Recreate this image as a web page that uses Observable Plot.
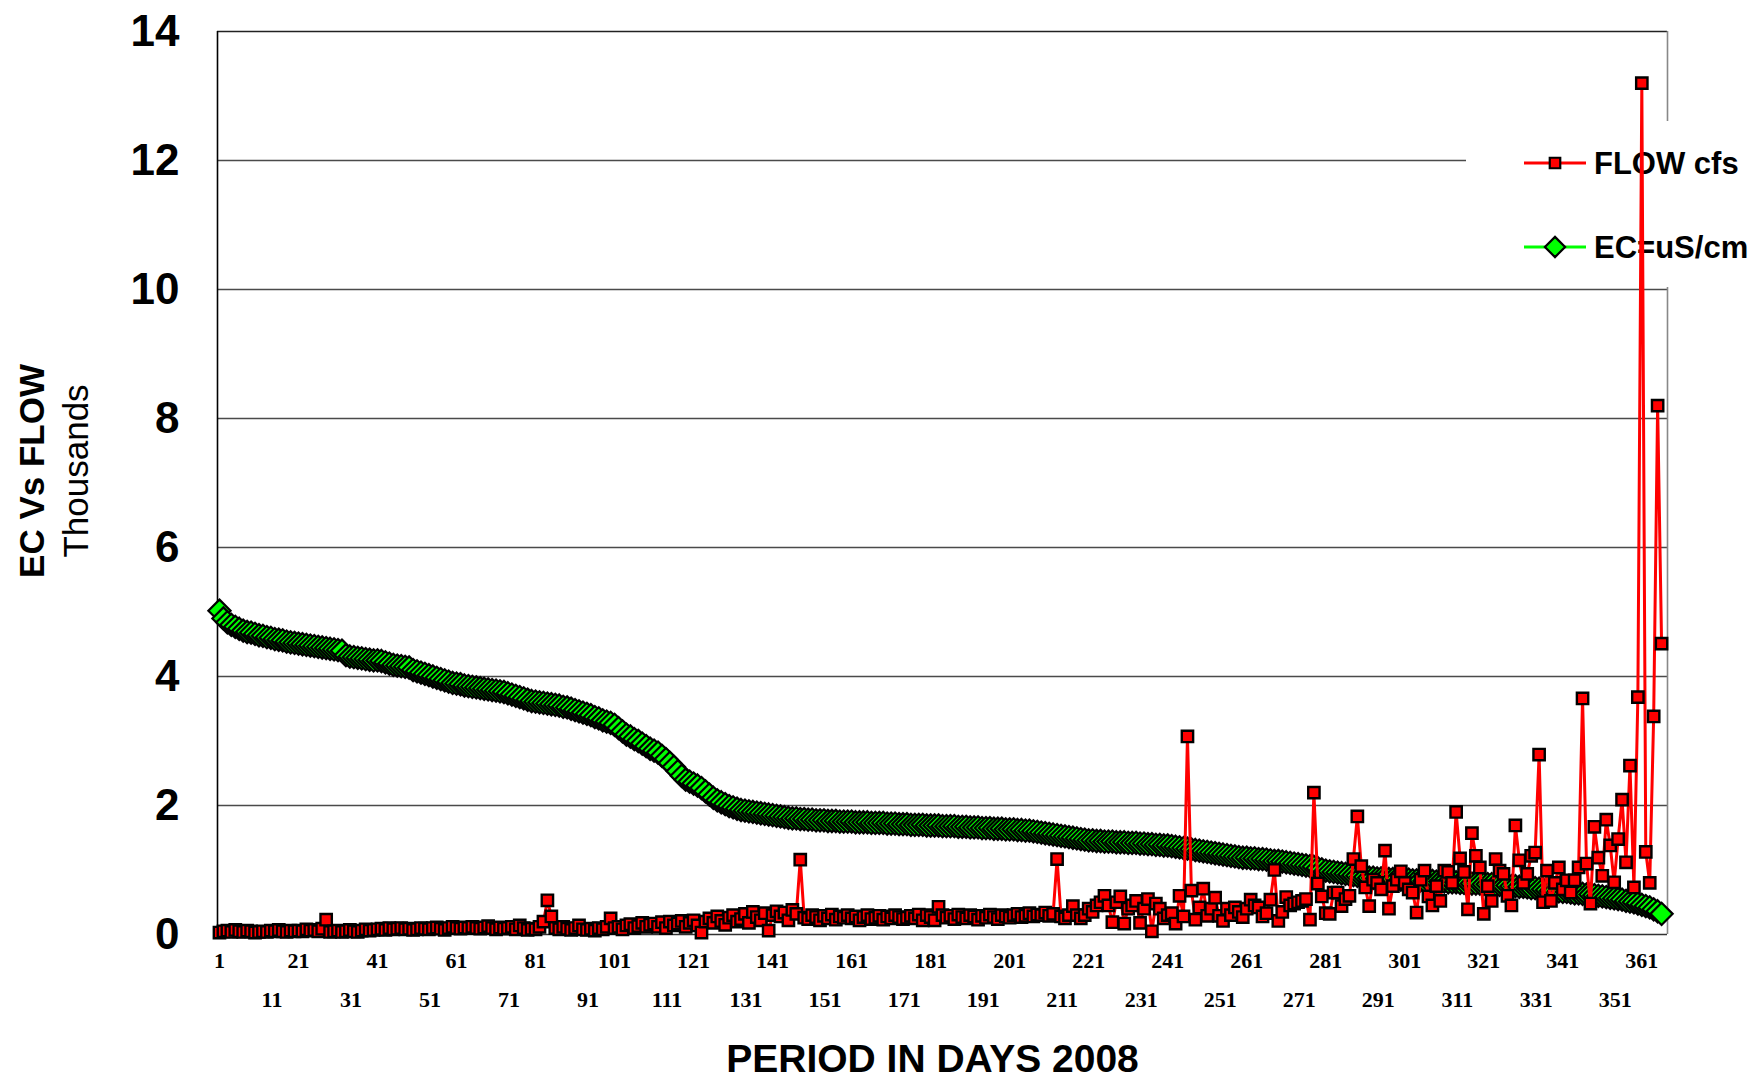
<!DOCTYPE html>
<html>
<head>
<meta charset="utf-8">
<script src="https://cdn.jsdelivr.net/npm/d3@7"></script>
<script src="https://cdn.jsdelivr.net/npm/@observablehq/plot@0.6"></script>
<style>
html, body { margin: 0; padding: 0; background: #fff; }
</style>
</head>
<body>
<div id="chart"></div>
<script>
// ---- data (thousands) ----
const flowCfs = [
  0.03,0.05,0.06,0.04,0.07,0.05,0.04,0.06,0.05,0.03,0.04,0.05,0.04,0.06,0.05,0.07,0.05,0.04,0.06,0.05,
  0.06,0.05,0.08,0.06,0.07,0.05,0.09,0.23,0.04,0.05,0.06,0.04,0.05,0.07,0.05,0.04,0.06,0.08,0.06,0.07,
  0.08,0.09,0.07,0.1,0.08,0.09,0.1,0.08,0.09,0.07,0.08,0.1,0.09,0.08,0.1,0.11,0.09,0.07,0.1,0.12,
  0.1,0.09,0.11,0.1,0.12,0.1,0.09,0.11,0.13,0.1,0.08,0.11,0.09,0.1,0.12,0.08,0.14,0.1,0.07,0.09,
  0.08,0.12,0.2,0.53,0.28,0.1,0.08,0.12,0.09,0.07,0.1,0.14,0.08,0.07,0.09,0.06,0.1,0.08,0.12,0.25,
  0.1,0.12,0.08,0.14,0.16,0.1,0.13,0.18,0.12,0.15,0.17,0.12,0.19,0.1,0.2,0.14,0.17,0.21,0.12,0.18,
  0.22,0.14,0.03,0.2,0.25,0.18,0.28,0.21,0.15,0.26,0.3,0.2,0.24,0.32,0.18,0.35,0.27,0.22,0.33,0.06,
  0.3,0.36,0.28,0.34,0.22,0.38,0.32,1.16,0.26,0.24,0.3,0.27,0.22,0.29,0.25,0.31,0.23,0.28,0.26,0.3,
  0.25,0.28,0.22,0.27,0.3,0.24,0.26,0.29,0.23,0.28,0.25,0.3,0.27,0.24,0.26,0.29,0.25,0.31,0.22,0.3,
  0.27,0.22,0.43,0.3,0.26,0.29,0.24,0.31,0.27,0.25,0.3,0.28,0.23,0.29,0.26,0.31,0.27,0.24,0.3,0.28,
  0.26,0.3,0.32,0.27,0.29,0.33,0.28,0.31,0.3,0.34,0.29,0.32,1.17,0.28,0.25,0.3,0.44,
  0.3,0.25,0.3,0.4,0.35,0.45,0.5,0.6,0.45,0.19,
  0.5,0.59,0.17,0.4,0.45,0.52,0.18,0.4,0.55,0.05,
  0.48,0.4,0.25,0.3,0.33,0.17,0.6,0.28,3.07,0.68,
  0.23,0.42,0.71,0.29,0.4,0.57,0.29,0.21,0.4,0.3,
  0.42,0.35,0.27,0.4,0.54,0.45,0.42,0.28,0.33,0.54,
  1.0,0.21,0.35,0.58,0.45,0.48,0.5,0.52,0.55,0.23,
  2.2,0.79,0.59,0.33,0.32,0.65,0.65,0.44,0.55,0.6,
  1.17,1.83,1.06,0.73,
  0.44,0.85,0.8,0.7,1.3,0.4,0.75,0.85,0.98,0.8,
  0.7,0.65,0.34,0.85,0.99,0.59,0.45,0.75,0.52,0.99,
  0.97,0.8,1.9,1.18,0.97,0.39,1.57,1.22,1.04,0.32,
  0.75,0.52,1.17,0.99,0.94,0.6,0.45,1.69,1.15,0.8,
  0.94,1.22,1.27,2.79,0.5,0.99,0.52,0.8,1.04,0.7,
  0.84,0.65,0.84,1.04,3.66,1.1,0.48,1.67,1.19,0.91,
  1.78,1.38,0.81,1.48,2.09,1.12,2.62,0.73,3.68,13.2,
  1.28,0.8,3.38,8.2,4.51
];

const ecUsCm = [
  5.02,4.9,4.84,4.8,4.77,4.74,4.71,4.69,4.68,4.66,
  4.64,4.63,4.61,4.6,4.58,4.57,4.56,4.54,4.53,4.52,
  4.51,4.5,4.49,4.48,4.47,4.46,4.45,4.44,4.43,4.42,
  4.41,4.4,4.33,4.31,4.3,4.29,4.28,4.27,4.26,4.25,
  4.25,4.24,4.22,4.2,4.18,4.17,4.16,4.15,4.14,4.1,
  4.08,4.06,4.04,4.02,4.0,3.98,3.96,3.94,3.92,3.9,
  3.89,3.88,3.86,3.85,3.84,3.83,3.82,3.81,3.8,3.79,
  3.78,3.77,3.76,3.74,3.72,3.7,3.68,3.66,3.64,3.62,
  3.61,3.6,3.59,3.58,3.57,3.56,3.55,3.53,3.52,3.5,
  3.48,3.46,3.44,3.42,3.4,3.37,3.35,3.32,3.3,3.28,
  3.25,3.2,3.15,3.1,3.07,3.03,3.0,2.96,2.92,2.88,
  2.85,2.82,2.77,2.72,2.66,2.6,2.53,2.46,2.4,2.37,
  2.34,2.31,2.27,2.22,2.17,2.12,2.08,2.05,2.02,1.99,
  1.97,1.95,1.93,1.92,1.91,1.9,1.89,1.88,1.87,1.86,
  1.85,1.84,1.83,1.82,1.81,1.8,1.8,1.79,1.79,1.78,
  1.78,1.77,1.77,1.77,1.76,1.76,1.76,1.75,1.75,1.75,
  1.75,1.74,1.74,1.74,1.74,1.73,1.73,1.73,1.73,1.72,
  1.72,1.72,1.71,1.71,1.71,1.7,1.7,1.7,1.7,1.69,
  1.69,1.69,1.69,1.68,1.68,1.68,1.68,1.67,1.67,1.67,
  1.66,1.66,1.66,1.65,1.65,1.65,1.64,1.64,1.64,1.63,
  1.63,1.63,1.62,1.62,1.61,1.61,1.6,1.59,1.58,1.57,
  1.56,1.55,1.54,1.53,1.52,1.51,1.5,1.49,1.48,1.47,
  1.46,1.46,1.45,1.45,1.44,1.44,1.44,1.43,1.43,1.43,
  1.42,1.42,1.42,1.41,1.41,1.4,1.4,1.39,1.39,1.38,
  1.38,1.37,1.36,1.35,1.34,1.33,1.32,1.31,1.3,1.29,
  1.28,1.27,1.26,1.25,1.24,1.23,1.22,1.21,1.2,1.19,
  1.19,1.18,1.18,1.17,1.17,1.16,1.15,1.14,1.14,1.13,
  1.12,1.11,1.1,1.09,1.08,1.07,1.06,1.05,1.03,1.01,
  0.99,0.98,0.97,0.96,0.95,0.94,0.93,0.92,0.91,0.9,
  0.89,0.88,0.88,0.87,0.87,0.87,0.86,0.86,0.86,0.85,
  0.85,0.85,0.84,0.84,0.84,0.83,0.83,0.83,0.82,0.82,
  0.82,0.81,0.81,0.81,0.8,0.8,0.8,0.79,0.79,0.79,
  0.78,0.78,0.78,0.77,0.77,0.76,0.76,0.75,0.75,0.74,
  0.74,0.73,0.72,0.72,0.71,0.7,0.69,0.68,0.68,0.67,
  0.66,0.66,0.65,0.64,0.64,0.63,0.62,0.62,0.61,0.6,
  0.59,0.58,0.57,0.56,0.55,0.54,0.52,0.51,0.5,0.48,
  0.46,0.44,0.42,0.39,0.36,0.32
];

const yTicks = [0, 2, 4, 6, 8, 10, 12, 14];
const xTicksRow1 = [1, 21, 41, 61, 81, 101, 121, 141, 161, 181, 201, 221, 241, 261, 281, 301, 321, 341, 361];
const xTicksRow2 = [11, 31, 51, 71, 91, 111, 131, 151, 171, 191, 211, 231, 251, 271, 291, 311, 331, 351];
const seriesNames = ["FLOW cfs", "EC=uS/cm"];
const xTitle = "PERIOD IN DAYS 2008";
const yTitle = "EC Vs FLOW";
const yUnit = "Thousands";

// ---- tables ----
const flowData = flowCfs.map((v, i) => ({day: i + 1, value: v}));
const ecData = ecUsCm.map((v, i) => ({day: i + 1, value: v}));

const RED = "#ff0000", GREEN = "#00ff00";
const sans = "'Liberation Sans', Arial, sans-serif";
const serif = "'Liberation Serif', 'Times New Roman', serif";

// legend (drawn as a render-function mark, beneath the series)
function legendMark(index, scales, values, dims) {
  const g = d3.create("svg:g");
  const right = dims.width - dims.marginRight;   // frame right edge
  g.append("rect")
    .attr("x", right - 201).attr("y", 121)
    .attr("width", 260).attr("height", 166)
    .attr("fill", "#fff");
  const items = [
    {name: seriesNames[0], color: RED, sym: d3.symbol(d3.symbolSquare, 110)(), y: 163},
    {name: seriesNames[1], color: GREEN, sym: d3.symbol(d3.symbolDiamond2, 260)(), y: 247}
  ];
  const x0 = right - 143, x1 = right - 81, xc = right - 112, xt = right - 73;
  for (const it of items) {
    g.append("line").attr("x1", x0).attr("x2", x1).attr("y1", it.y).attr("y2", it.y)
      .attr("stroke", it.color).attr("stroke-width", 3);
    g.append("path").attr("d", it.sym).attr("transform", `translate(${xc},${it.y})`)
      .attr("fill", it.color).attr("stroke", "#000").attr("stroke-width", 2.2);
    g.append("text").attr("x", xt).attr("y", it.y + 11)
      .attr("text-anchor", "start")
      .attr("font-size", 31).attr("font-weight", "bold")
      .attr("font-family", sans)
      .attr("fill", "#000").text(it.name);
  }
  return g.node();
}

const chart = Plot.plot({
  width: 1758,
  height: 1077,
  marginLeft: 217,
  marginTop: 31,
  marginRight: 91,
  marginBottom: 143,
  style: {fontFamily: sans, background: "#fff", overflow: "visible", color: "#000"},
  x: {domain: [0.5, 367.5], axis: null, label: null},
  y: {domain: [0, 14], axis: null, label: null},
  marks: [
    Plot.ruleY(yTicks.filter(d => d > 0 && d < 14), {stroke: "#4a4a4a", strokeWidth: 1.3}),
    Plot.ruleY([14], {stroke: "#222", strokeWidth: 1.6}),
    Plot.ruleX([367.5], {stroke: "#888", strokeWidth: 1.6}),
    Plot.ruleX([0.5], {stroke: "#000", strokeWidth: 1.6}),
    Plot.ruleY([0], {stroke: "#333", strokeWidth: 1.6}),
    legendMark,
    Plot.line(ecData, {x: "day", y: "value", stroke: GREEN, strokeWidth: 2.5}),
    Plot.dot(ecData, {x: "day", y: "value", symbol: "diamond2", r: 10, fill: GREEN, stroke: "#000", strokeWidth: 2.2}),
    Plot.line(flowData, {x: "day", y: "value", stroke: RED, strokeWidth: 3}),
    Plot.dot(flowData, {x: "day", y: "value", symbol: "square", r: 6.4, fill: RED, stroke: "#000", strokeWidth: 2.4}),
    Plot.axisY(yTicks, {anchor: "left", label: null, tickFormat: d => String(d), tickSize: 0, tickPadding: 38, fontSize: 44, fontWeight: "bold", fill: "#000"}),
    Plot.axisX(xTicksRow1, {anchor: "bottom", label: null, tickFormat: d => String(d), tickSize: 0, tickPadding: 18, fontSize: 22, fontWeight: "bold", fontFamily: serif, fill: "#000"}),
    Plot.axisX(xTicksRow2, {anchor: "bottom", label: null, tickFormat: d => String(d), tickSize: 0, tickPadding: 57, dx: 13, fontSize: 22, fontWeight: "bold", fontFamily: serif, fill: "#000"}),
    Plot.text([xTitle], {text: d => d, frameAnchor: "bottom", lineAnchor: "middle", textAnchor: "middle", dy: 125, dx: -10, fontSize: 39, fontWeight: "bold", fill: "#000"}),
    Plot.text([yTitle], {text: d => d, frameAnchor: "left", rotate: -90, textAnchor: "middle", lineAnchor: "middle", dx: -185, dy: -12, fontSize: 35, fontWeight: "bold", fill: "#000"}),
    Plot.text([yUnit], {text: d => d, frameAnchor: "left", rotate: -90, textAnchor: "middle", lineAnchor: "middle", dx: -141, dy: -12, fontSize: 35, fill: "#000"})
  ]
});

document.getElementById("chart").appendChild(chart);
</script>
</body>
</html>
